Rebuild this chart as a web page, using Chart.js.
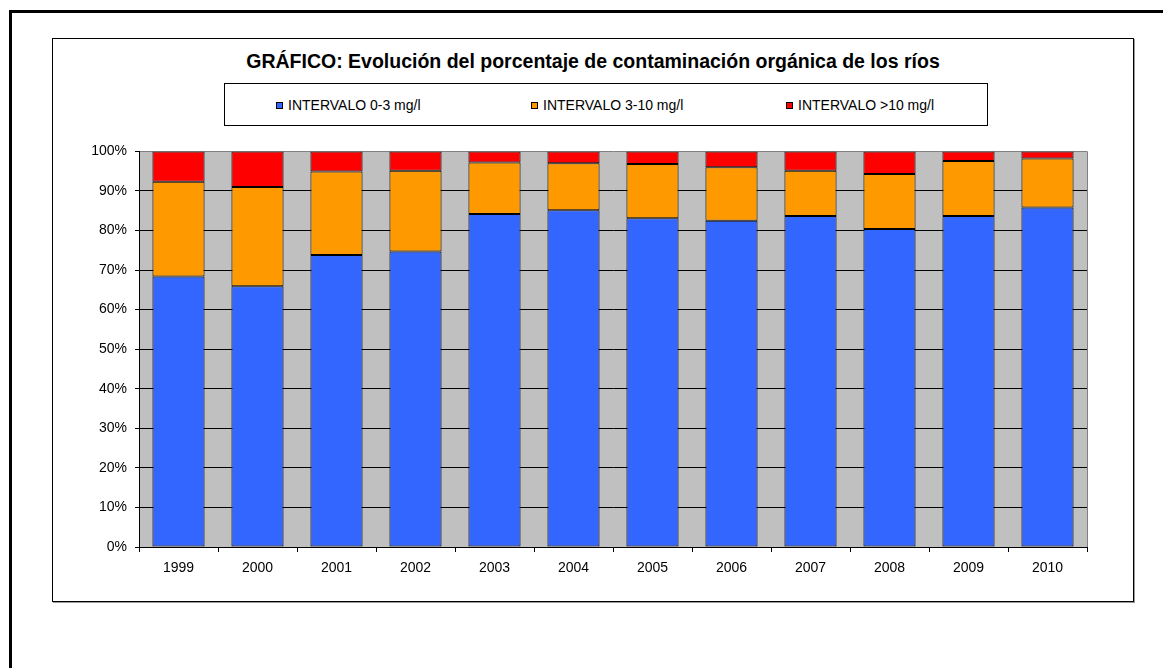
<!DOCTYPE html>
<html>
<head>
  <title>Contaminación orgánica de los ríos</title>
  <script src="https://cdn.jsdelivr.net/npm/chart.js@4/dist/chart.umd.min.js"></script>
  <style>
    body {
      margin: 0;
      background: #fff;
      font-family: "Liberation Sans", Arial, sans-serif;
    }
    .frame {
      position: absolute;
      left: 9px;
      top: 10px;
      right: 0;
      bottom: 0;
      border-left: 3px solid #000;
      border-top: 3px solid #000;
    }
    .box {
      position: absolute;
      left: 52px;
      top: 38px;
      width: 1080px;
      height: 562px;
      border: 1px solid #000;
      box-shadow: 1px 1px 0 #999;
    }
    .title {
      position: absolute;
      left: 52px;
      width: 1082px;
      top: 51px;
      line-height: 20px;
      font-size: 19.5px;
      font-weight: bold;
      text-align: center;
    }
    .legend {
      position: absolute;
      left: 224px;
      top: 83px;
      width: 711px;
      height: 41px;
      padding-left: 51px;
      border: 1px solid #000;
      display: grid;
      grid-template-columns: 255px 255px 201px;
      align-items: center;
      font-size: 14px;
    }
    .legend span.sw {
      display: inline-block;
      width: 5px;
      height: 5px;
      border: 1px solid #000;
      margin-right: 5px;
      vertical-align: 1px;
    }
    #chart {
      position: absolute;
      left: 53px;
      top: 135px;
    }
  </style>
</head>
<body>
  <div class="frame"></div>
  <div class="box"></div>
  <div class="title">GRÁFICO: Evolución del porcentaje de contaminación orgánica de los ríos</div>
  <div class="legend" id="legend"></div>
  <canvas id="chart" width="1070" height="455"></canvas>
  <script>
    var years = ['1999', '2000', '2001', '2002', '2003', '2004', '2005', '2006', '2007', '2008', '2009', '2010'];
    var seriesNames = ['INTERVALO 0-3 mg/l', 'INTERVALO 3-10 mg/l', 'INTERVALO >10 mg/l'];
    var seriesColors = ['#3366FF', '#FF9900', '#FF0000'];

    // porcentaje de estaciones en cada intervalo
    var low = [68.4, 65.9, 73.8, 74.7, 84.2, 85.1, 83.1, 82.5, 83.7, 80.4, 83.7, 85.8];
    var mid = [23.9, 25.1, 21.1, 20.4, 13.0, 11.9, 13.7, 13.5, 11.4, 13.9, 13.9, 12.4];
    var high = [7.7, 9.0, 5.1, 4.9, 2.8, 3.0, 3.2, 4.0, 4.9, 5.7, 2.4, 1.8];
    var yTicks = [0, 10, 20, 30, 40, 50, 60, 70, 80, 90, 100];

    var fontFamily = '"Liberation Sans", Arial, sans-serif';

    // leyenda
    var legend = document.getElementById('legend');
    seriesNames.forEach(function (name, i) {
      var item = document.createElement('div');
      item.innerHTML = '<span class="sw" style="background:' + seriesColors[i] + '"></span>' + name;
      legend.appendChild(item);
    });

    // fondo gris del área de trazado y borde derecho
    var plotArea = {
      id: 'plotArea',
      beforeDraw: function (chart) {
        var a = chart.chartArea, ctx = chart.ctx;
        ctx.save();
        ctx.fillStyle = '#C0C0C0';
        ctx.fillRect(a.left, a.top, a.right - a.left, a.bottom - a.top);
        ctx.restore();
      },
      afterDraw: function (chart) {
        var a = chart.chartArea, ctx = chart.ctx;
        ctx.save();
        ctx.strokeStyle = '#808080';
        ctx.lineWidth = 1;
        ctx.beginPath();
        ctx.moveTo(a.right + 0.5, a.top);
        ctx.lineTo(a.right + 0.5, a.bottom);
        ctx.stroke();
        ctx.restore();
      }
    };

    var datasets = [low, mid, high].map(function (values, i) {
      return {
        label: seriesNames[i],
        data: values,
        backgroundColor: seriesColors[i],
        borderColor: '#000',
        borderWidth: 1,
        borderSkipped: false,
        categoryPercentage: 1,
        barPercentage: 0.66
      };
    });

    new Chart(document.getElementById('chart'), {
      type: 'bar',
      data: { labels: years, datasets: datasets },
      plugins: [plotArea],
      options: {
        responsive: false,
        animation: false,
        layout: { padding: { left: 0, right: 36, top: 11, bottom: 0 } },
        plugins: {
          legend: { display: false },
          title: { display: false },
          tooltip: { enabled: false }
        },
        scales: {
          x: {
            stacked: true,
            grid: {
              offset: true,
              drawOnChartArea: false,
              drawTicks: true,
              tickLength: 5,
              color: '#000'
            },
            border: { color: '#000', width: 1 },
            ticks: {
              color: '#000',
              padding: 8,
              font: { family: fontFamily, size: 14 }
            },
            afterFit: function (scale) { scale.height = 43; }
          },
          y: {
            stacked: true,
            min: 0,
            max: 100,
            afterBuildTicks: function (scale) {
              scale.ticks = yTicks.map(function (v) { return { value: v }; });
            },
            grid: {
              color: function (c) { return c.tick && c.tick.value === 100 ? '#808080' : '#000'; },
              tickColor: '#000',
              tickLength: 4
            },
            border: { color: '#000', width: 1 },
            ticks: {
              color: '#000',
              padding: 8,
              font: { family: fontFamily, size: 14 },
              callback: function (v) { return v + '%'; }
            },
            afterFit: function (scale) { scale.width = 86; }
          }
        }
      }
    });
  </script>
</body>
</html>
